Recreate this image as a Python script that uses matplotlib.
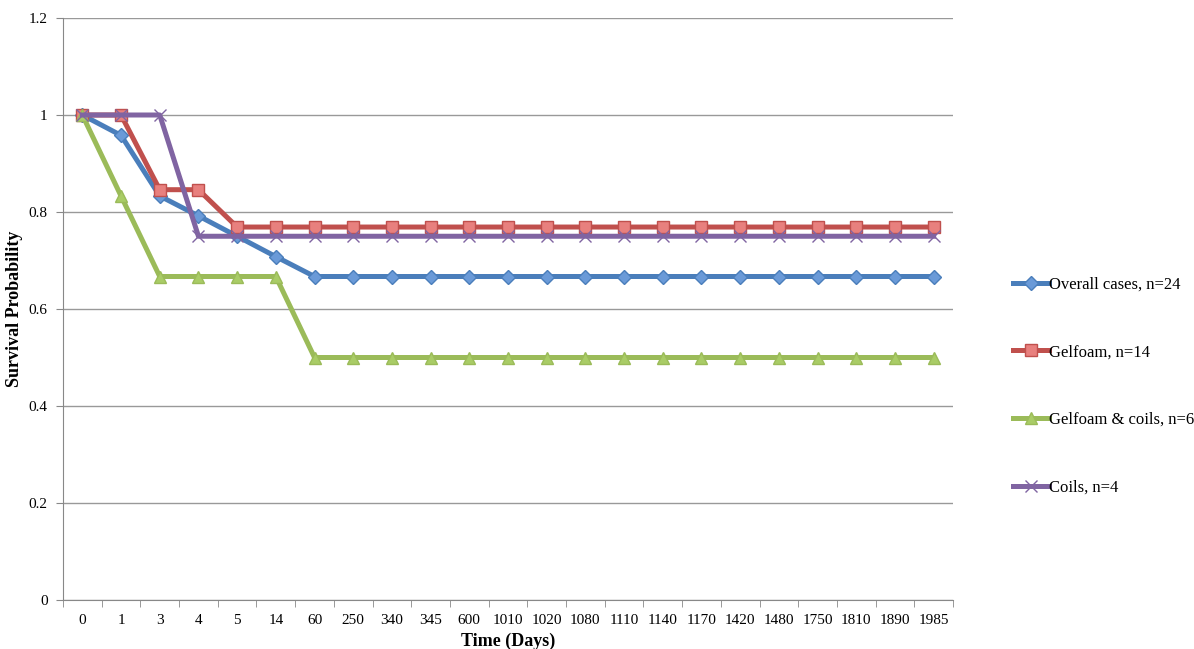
import matplotlib
matplotlib.use("Agg")
import matplotlib.pyplot as plt
import numpy as np

plt.rcParams['font.family'] = ['Liberation Serif', 'DejaVu Serif']

days = ['0', '1', '3', '4', '5', '14', '60', '250', '340', '345', '600', '1010',
        '1020', '1080', '1110', '1140', '1170', '1420', '1480', '1750', '1810',
        '1890', '1985']
overall = [1, 0.958, 0.833, 0.792, 0.75, 0.708] + [0.667] * 17
gelfoam = [1, 1, 0.846, 0.846] + [0.769] * 19
gelfoam_coils = [1, 0.833, 0.667, 0.667, 0.667, 0.667] + [0.5] * 17
coils = [1, 1, 1] + [0.75] * 20

fig = plt.figure(figsize=(11.94, 6.49), dpi=100)
ax = fig.add_axes([63 / 1194, 49 / 649, 890 / 1194, 582 / 649])

x = np.arange(len(days))
series = [
    (overall, 'Overall cases, n=24', '#4A7EBB', 'D', '#6A9AD8', 7),
    (gelfoam, 'Gelfoam, n=14', '#C0504D', 's', '#E8807E', 9),
    (gelfoam_coils, 'Gelfoam & coils, n=6', '#9BBB59', '^', '#A9CC66', 9),
    (coils, 'Coils, n=4', '#8064A2', 'x', '#8064A2', 9),
]
for vals, name, col, mk, fc, ms in series:
    ax.plot(x, vals, color=col, lw=3.6, marker=mk, markersize=ms,
            markerfacecolor=fc, markeredgecolor=col, markeredgewidth=1.0,
            label=name, solid_joinstyle='round')

ax.set_xlim(-0.5, len(days) - 0.5)
ax.set_ylim(0, 1.2)
ax.set_yticks(np.arange(0, 1.21, 0.2))
ax.set_yticklabels(['0', '0.2', '0.4', '0.6', '0.8', '1', '1.2'])
ax.set_xticks(x)
ax.set_xticklabels(days)
ax.set_xticks(np.arange(-0.5, len(days), 1), minor=True)
ax.tick_params(axis='x', which='major', length=0, pad=10, labelsize=11)
ax.tick_params(axis='x', which='minor', length=5, color='#888888')
ax.tick_params(axis='y', length=5, color='#888888', labelsize=11, pad=6)
ax.yaxis.grid(True, color='#999999', lw=1)
ax.set_axisbelow(True)
for s in ['top', 'right']:
    ax.spines[s].set_visible(False)
for s in ['left', 'bottom']:
    ax.spines[s].set_color('#888888')

ax.set_xlabel('Time (Days)', fontsize=13, fontweight='bold', labelpad=4)
ax.set_ylabel('Survival Probability', fontsize=13, fontweight='bold', labelpad=4)

fig.legend(loc='center left', bbox_to_anchor=(1006 / 1194, 1 - 386 / 649),
           frameon=False, fontsize=12, labelspacing=3.1, handlelength=2.2,
           handletextpad=0.0, borderaxespad=0)

fig.savefig('out.png', dpi=100)
